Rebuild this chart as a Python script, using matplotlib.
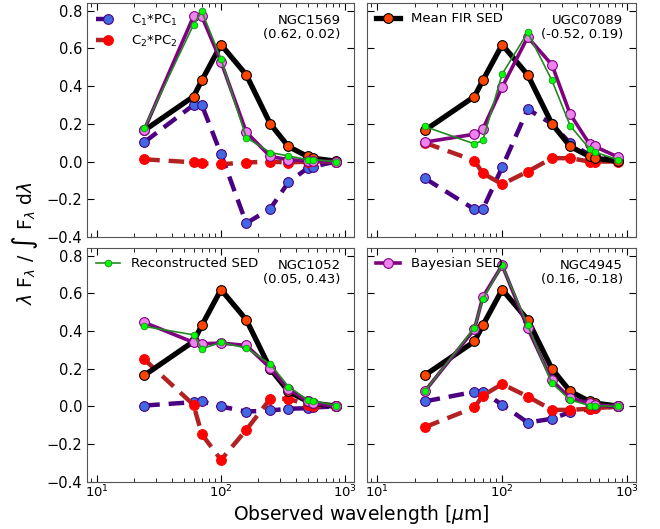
import numpy as np
import matplotlib
matplotlib.use('Agg')
import matplotlib.pyplot as plt

# wavelengths [micron]
wave = [24, 60, 70, 100, 160, 250, 350, 500, 550, 850]

# mean FIR SED (same in every panel)
mean_sed = [0.165, 0.345, 0.43, 0.62, 0.46, 0.20, 0.08, 0.027, 0.018, 0.002]

names = ['NGC1569', 'UGC07089', 'NGC1052', 'NGC4945']
coeffs = ['(0.62, 0.02)', '(-0.52, 0.19)', '(0.05, 0.43)', '(0.16, -0.18)']

bayes_1569 = [0.168, 0.77, 0.77, 0.53, 0.156, 0.027, 0.01, 0.004, 0.002, 0.0]
recon_1569 = [0.177, 0.726, 0.797, 0.543, 0.127, 0.048, 0.03, 0.01, 0.01, 0.0]
pc1_1569 = [0.103, 0.30, 0.30, 0.04, -0.327, -0.25, -0.11, -0.035, -0.027, 0.0]
pc2_1569 = [0.012, -0.004, -0.01, -0.014, -0.005, 0.0, -0.005, 0.0, 0.002, 0.0]

bayes_7089 = [0.103, 0.145, 0.172, 0.395, 0.66, 0.513, 0.251, 0.092, 0.08, 0.023]
recon_7089 = [0.186, 0.094, 0.112, 0.464, 0.685, 0.43, 0.19, 0.067, 0.05, 0.009]
pc1_7089 = [-0.088, -0.253, -0.253, -0.03, 0.278, 0.20, 0.097, 0.035, 0.027, 0.004]
pc2_7089 = [0.10, 0.005, -0.062, -0.12, -0.053, 0.018, 0.018, 0.0, 0.0, 0.0]

bayes_1052 = [0.446, 0.34, 0.333, 0.336, 0.324, 0.204, 0.094, 0.027, 0.018, 0.0]
recon_1052 = [0.425, 0.38, 0.306, 0.34, 0.31, 0.225, 0.106, 0.035, 0.03, 0.005]
pc1_1052 = [0.005, 0.023, 0.027, 0.0, -0.027, -0.021, -0.012, -0.009, -0.005, 0.0]
pc2_1052 = [0.25, 0.009, -0.147, -0.283, -0.124, 0.041, 0.041, 0.009, 0.004, 0.0]

bayes_4945 = [0.08, 0.41, 0.58, 0.749, 0.416, 0.138, 0.044, 0.018, 0.009, 0.0]
recon_4945 = [0.08, 0.416, 0.57, 0.749, 0.43, 0.124, 0.035, 0.005, 0.005, 0.0]
pc1_4945 = [0.027, 0.078, 0.078, 0.009, -0.085, -0.065, -0.03, -0.014, -0.009, 0.0]
pc2_4945 = [-0.11, -0.005, 0.058, 0.119, 0.053, -0.018, -0.018, -0.012, -0.009, 0.0]

bayes = [bayes_1569, bayes_7089, bayes_1052, bayes_4945]
recon = [recon_1569, recon_7089, recon_1052, recon_4945]
pc1 = [pc1_1569, pc1_7089, pc1_1052, pc1_4945]
pc2 = [pc2_1569, pc2_7089, pc2_1052, pc2_4945]

fig = plt.figure(figsize=(6.6, 5.29), dpi=100)
boxes = [[0.132, 0.552, 0.404, 0.442], [0.556, 0.552, 0.408, 0.442],
         [0.132, 0.089, 0.404, 0.442], [0.556, 0.089, 0.408, 0.442]]

for i in range(4):
    ax = fig.add_axes(boxes[i])
    l1, = ax.plot(wave, pc1[i], '--', color='indigo', lw=3.2, dashes=(3.5, 2),
                  marker='o', ms=7, mfc='royalblue', mec='indigo', mew=0.8, label=r'C$_1$*PC$_1$')
    l2, = ax.plot(wave, pc2[i], '--', color='firebrick', lw=3.2, dashes=(3.5, 2),
                  marker='o', ms=7, mfc='red', mec='red', mew=0.8, label=r'C$_2$*PC$_2$')
    l3, = ax.plot(wave, mean_sed, '-', color='black', lw=3.8,
                  marker='o', ms=7, mfc='orangered', mec='black', mew=0.8, label='Mean FIR SED')
    l4, = ax.plot(wave, bayes[i], '-', color='purple', lw=2.6,
                  marker='o', ms=7, mfc='violet', mec='purple', mew=0.8, label='Bayesian SED')
    l5, = ax.plot(wave, recon[i], '-', color='forestgreen', lw=1.2,
                  marker='o', ms=4.8, mfc='lime', mec='forestgreen', mew=0.6, label='Reconstructed SED')

    ax.set_xscale('log')
    ax.set_xlim(8.3, 1180)
    ax.set_ylim(-0.4, 0.84)
    ax.set_yticks([-0.4, -0.2, 0.0, 0.2, 0.4, 0.6, 0.8])
    ax.tick_params(which='both', direction='in', top=True, right=True)
    ax.tick_params(axis='y', labelsize=10.5)
    ax.tick_params(axis='x', labelsize=9.5, pad=1.5)
    ax.tick_params(which='major', length=5)
    ax.tick_params(which='minor', length=3)
    if i % 2 == 1:
        ax.set_yticklabels([])
    if i < 2:
        ax.set_xticklabels([])
    for s in ax.spines.values():
        s.set_color('#555555')

    ax.text(0.95, 0.955, names[i] + '\n' + coeffs[i], transform=ax.transAxes,
            ha='right', va='top', fontsize=9.5, linespacing=1.15)

    if i == 0:
        hs = [l1, l2]
    elif i == 1:
        hs = [l3]
    elif i == 2:
        hs = [l5]
    else:
        hs = [l4]
    ax.legend(handles=hs, loc='upper left', frameon=False, fontsize=9.5,
              handlelength=1.8, borderaxespad=0.3)

fig.text(0.038, 0.54, r'$\lambda$ F$_\lambda$ / $\int$ F$_\lambda$ d$\lambda$',
         rotation=90, ha='center', va='center', fontsize=13.5)
fig.text(0.548, 0.006, r'Observed wavelength [$\mu$m]', ha='center', va='bottom', fontsize=13.5)

fig.savefig('out.png', dpi=100)
